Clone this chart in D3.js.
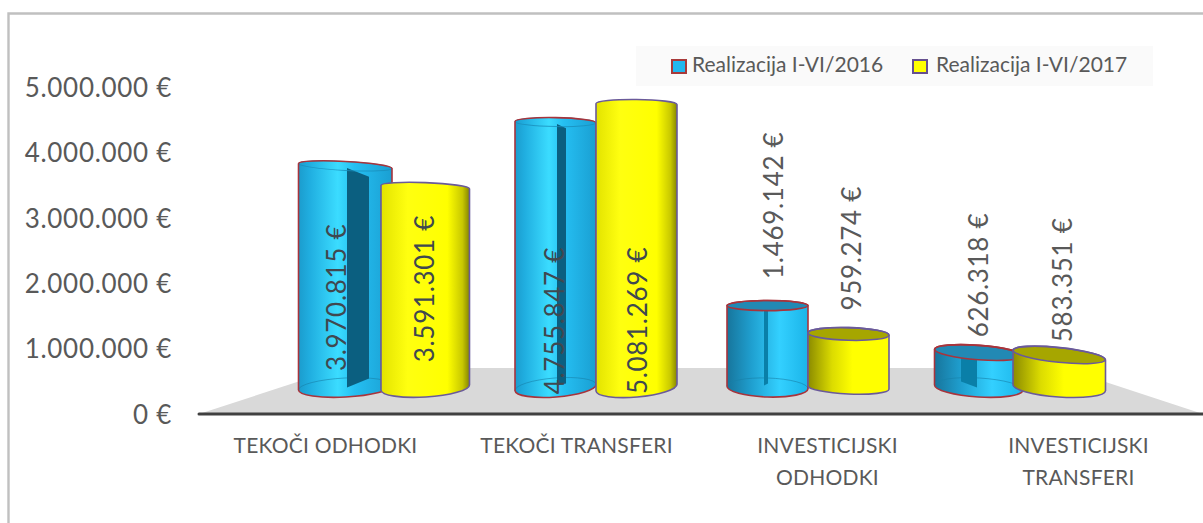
<!DOCTYPE html>
<html><head><meta charset="utf-8">
<script src="https://d3js.org/d3.v7.min.js"></script>
<style>html,body{margin:0;padding:0;background:#fff}svg{display:block}text{font-family:Lato,"Open Sans",sans-serif}</style>
</head><body><svg id="c" width="1203" height="523"></svg>
<script>
const categories = [["TEKOČI ODHODKI"],["TEKOČI TRANSFERI"],["INVESTICIJSKI","ODHODKI"],["INVESTICIJSKI","TRANSFERI"]];
const seriesNames = ["Realizacija I-VI/2016","Realizacija I-VI/2017"];
const values2016 = [3970815,4755847,1469142,626318];
const values2017 = [3591301,5081269,959274,583351];
const yTicks = [0,1000000,2000000,3000000,4000000,5000000];

// layout only
const labelDy = [[136,106],[203,221],[-21.5,-17],[-8,-5.5]];   // label anchor relative to bar-top peak
const labelDx = [[-6,2],[2,4],[9,6],[3,6]];
const panelTop = [[347,369],[557,566],[764,768],[961,977]];

const fmt = v => d3.format(",")(v).replace(/,/g,".")+" €";
const svg = d3.select("#c");
const defs = svg.append("defs");
function grad(id,stops){
  const g=defs.append("linearGradient").attr("id",id).attr("x1",0).attr("x2",1).attr("y1",0).attr("y2",0);
  stops.forEach(s=>g.append("stop").attr("offset",s[0]).attr("stop-color",s[1]));
}
grad("bT",[[0,"#1b9ccd"],[.12,"#20aee0"],[.42,"#3bdcff"],[.6,"#25bff2"],[1,"#1a9fd2"]]);
grad("bL",[[0,"#17759c"],[.3,"#1f9fcf"],[.65,"#33d0ff"],[1,"#1bb4e8"]]);
grad("yT",[[0,"#e3e300"],[.3,"#ffff10"],[.75,"#ffff00"],[.92,"#c8c800"],[1,"#858500"]]);
grad("yL",[[0,"#8b8b00"],[.3,"#dcdc00"],[.55,"#ffff00"],[1,"#ffff00"]]);

// frame
svg.append("path").attr("d","M8.5,523V13.5H1203").attr("fill","none").attr("stroke","#c0c0c0").attr("stroke-width",2.4);

// scales
const yAxisScale = d3.scaleLinear().domain([0,5000000]).range([415,88]);
const yBar = d3.scaleLinear().domain([0,5000000]).range([387.5,108.5]);
const xGroup = d3.scalePoint().domain(d3.range(4)).range([384,1020]);
const xLabel = d3.scalePoint().domain(d3.range(4)).range([325,1078]);
const topTilt = d3.scaleLinear().domain([345,555,767,1059]).range([3,1,0,6]);
const botTilt = d3.scaleLinear().domain([345,650,770,1060]).range([-3,-5,2,4]);
const topRy = d3.scaleLinear().domain([500000,1500000,3000000]).range([7.5,5,4.5]).clamp(true);

// floor
svg.append("path").attr("d","M199,414L340,368H1063L1203,414Z").attr("fill","#d9d9d9");
svg.append("line").attr("x1",199).attr("x2",1203).attr("y1",414).attr("y2",414)
   .attr("stroke","#404040").attr("stroke-width",3).attr("stroke-linecap","round");

// axes
const ya = svg.append("g").attr("transform","translate(172,0)")
  .call(d3.axisLeft(yAxisScale).tickValues(yTicks).tickSize(0).tickPadding(0).tickFormat(fmt));
ya.select(".domain").remove();
ya.selectAll("text").attr("font-size",26).attr("fill","#595959").style("font-family","Lato").style("letter-spacing","0.7px");

const xa = svg.append("g").attr("transform","translate(0,448)")
  .call(d3.axisBottom(xLabel).tickSize(0).tickFormat(""));
xa.select(".domain").remove();
xa.selectAll("text").each(function(i){
  const t=d3.select(this).attr("y",0).attr("dy",0).attr("font-size",21).attr("fill","#595959")
    .attr("dominant-baseline","middle").style("font-family","Lato").style("letter-spacing","0.2px");
  categories[i].forEach((s,k)=>t.append("tspan").attr("x",0).attr("y",k*31.5).text(s));
});

// bars
function bar(g,i,s,v){
  const c=xGroup(i), d=702-c, ad=Math.abs(d);
  const spread=81+(ad-106)/212*4.5;
  const ov=(ad-106)/212;
  const x0= s===0? c-spread : c-ov*(d>0?3:7);
  const x1= s===0? c+ov*(d>0?8:3) : c+spread;
  const w=x1-x0, mx=(x0+x1)/2, rx=w/2;
  const yT=yBar(v), yB=387.5;
  const low=v<2000000;
  const aT=topTilt(mx), aB=botTilt(mx);
  const ryT=topRy(v), ryB=low&&s===1&&i===2?6.5:9.5;
  const dyT=rx*Math.tan(aT*Math.PI/180), dyB=rx*Math.tan(aB*Math.PI/180);
  const stroke=s===0?"#a8343c":"#6a5a9a";
  const tl=yT-dyT,tr=yT+dyT,bl=yB-dyB,br=yB+dyB;
  const body=`M${x0},${tl}A${rx},${ryT} ${aT} 0 1 ${x1},${tr}L${x1},${br}A${rx},${ryB} ${aB} 0 1 ${x0},${bl}Z`;
  g.append("path").attr("d",body).attr("fill",`url(#${s===0?(low?"bL":"bT"):(low?"yL":"yT")})`);
  if(s===0){
    const pts=panelTop[i];
    // inner back rim of the bottom, seen through the translucent cylinder
    g.append("path").attr("d",`M${x0},${bl}A${rx},${ryB} ${aB} 0 1 ${x1},${br}`)
      .attr("fill","none").attr("stroke","#1780a8").attr("stroke-width",1).attr("opacity",.6);
    // dark inner panel
    const tY=yT+(low?-1:2), bY=yB;
    const p=[[pts[0],tY],[pts[1],tY+(pts[1]-pts[0])*.36+1],[pts[1],bY-(i===0?9:i===3?0:4)],[pts[0],bY+(i===3?-6:i===0?0:-2)]];
    g.append("path").attr("d",d3.line()(p)+"Z").attr("fill",i<2?"#0b5f80":"#0a7fa8");
  }
  // top face
  if(low){
    g.append("ellipse").attr("rx",rx).attr("ry",ryT).attr("transform",`translate(${mx},${yT}) rotate(${aT})`)
     .attr("fill",s===0?"#2289b4":"#a6a600").attr("stroke",stroke).attr("stroke-width",1.6);
  } else if(s===0){
    g.append("ellipse").attr("rx",rx).attr("ry",ryT).attr("transform",`translate(${mx},${yT}) rotate(${aT})`)
     .attr("fill","none").attr("stroke","#1a8fbb").attr("stroke-width",1).attr("opacity",.8);
  }
  g.append("path").attr("d",body).attr("fill","none").attr("stroke",stroke).attr("stroke-width",1.6);
  return {mx,peak:yT-ryT};
}
const layer=svg.append("g");
const series=[values2016,values2017];
const placed=[];
d3.range(4).forEach(i=>{
  [0,1].forEach(s=>{
    const g=layer.append("g");
    const r=bar(g,i,s,series[s][i]);
    placed.push({i,s,v:series[s][i],...r});
  });
});
// labels
svg.append("g").selectAll("text").data(placed).join("text")
  .attr("transform",d=>`translate(${d.mx+labelDx[d.i][d.s]},${d.peak+labelDy[d.i][d.s]}) rotate(-90)`)
  .attr("text-anchor",d=>d.v<2000000?"start":"middle")
  .attr("dominant-baseline","middle").style("letter-spacing","0.7px")
  .attr("font-size",26).attr("fill",d=>d.v<2000000?"#595959":"#404850").text(d=>fmt(d.v));

// legend
svg.append("rect").attr("x",636).attr("y",46).attr("width",517).attr("height",40).attr("fill","#fafafa");
const lx=d3.scalePoint().domain([0,1]).range([672,913]);
const lg=svg.append("g").selectAll("g").data(seriesNames).join("g").attr("transform",(d,i)=>`translate(${lx(i)},60)`);
lg.append("rect").attr("width",14).attr("height",13).attr("fill",(d,i)=>i?"#ffff00":"#22b8ef")
  .attr("stroke",(d,i)=>i?"#66508f":"#a83a3a").attr("stroke-width",2);
lg.append("text").attr("x",(d,i)=>i?23:20).attr("y",6.5).attr("dominant-baseline","middle")
  .attr("font-size",21).attr("fill","#595959").text(d=>d);
</script></body></html>
